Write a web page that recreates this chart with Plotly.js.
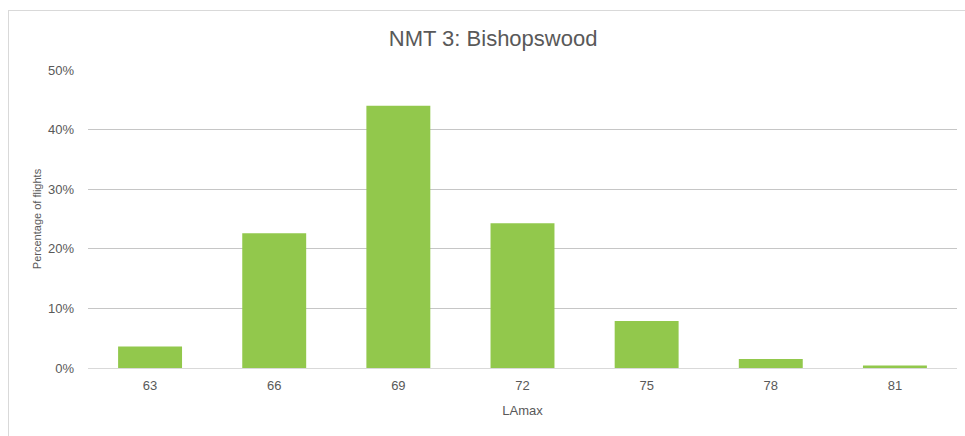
<!DOCTYPE html>
<html><head><meta charset="utf-8">
<script src="https://cdn.plot.ly/plotly-3.0.1.min.js"></script>
<style>
html,body{margin:0;padding:0;background:#fff;overflow:hidden;}
#frame{position:absolute;left:8px;top:10px;width:970px;height:440px;border:1px solid #d9d9d9;box-sizing:border-box;}
#chart{position:absolute;left:0;top:0;width:965px;height:436px;}
</style></head>
<body>
<div id="frame"></div>
<div id="chart"></div>
<script>
const categories = ['63','66','69','72','75','78','81'];
const percentages = [0.036, 0.226, 0.44, 0.243, 0.079, 0.015, 0.004];
const yTicks = [0, 0.1, 0.2, 0.3, 0.4, 0.5];
const yTickLabels = ['0%','10%','20%','30%','40%','50%'];

const font = 'Liberation Sans, Arial, sans-serif';
Plotly.newPlot('chart', [{
  type: 'bar',
  x: categories,
  y: percentages,
  marker: {color: '#92c84c', line: {width: 0}},
  hoverinfo: 'x+y'
}], {
  width: 965, height: 436,
  paper_bgcolor: 'rgba(0,0,0,0)', plot_bgcolor: 'rgba(0,0,0,0)',
  margin: {l: 88, r: 8, t: 70, b: 68},
  bargap: 0.485,
  showlegend: false,
  title: {text: 'NMT 3: Bishopswood', x: 0.511, xanchor: 'center', y: 0.913, yanchor: 'middle',
          font: {family: font, size: 22, color: '#595959'}},
  xaxis: {type: 'category', showgrid: false, zeroline: false, showline: true, linecolor: '#d9d9d9', linewidth: 1,
          ticks: '', ticklabelstandoff: 5, tickfont: {family: font, size: 13, color: '#595959'},
          title: {text: 'LAmax', font: {family: font, size: 13, color: '#595959'}, standoff: 14}},
  yaxis: {range: [0, 0.5], tickvals: yTicks, ticktext: yTickLabels, showgrid: true, gridcolor: '#c6c6c6', gridwidth: 1,
          zeroline: false, showline: false, ticks: '', ticklabelstandoff: 13,
          tickfont: {family: font, size: 13, color: '#595959'},
          title: {text: 'Percentage of flights', font: {family: font, size: 11, color: '#595959'}, standoff: 4}}
}, {displayModeBar: false, staticPlot: true});
</script>
</body></html>
